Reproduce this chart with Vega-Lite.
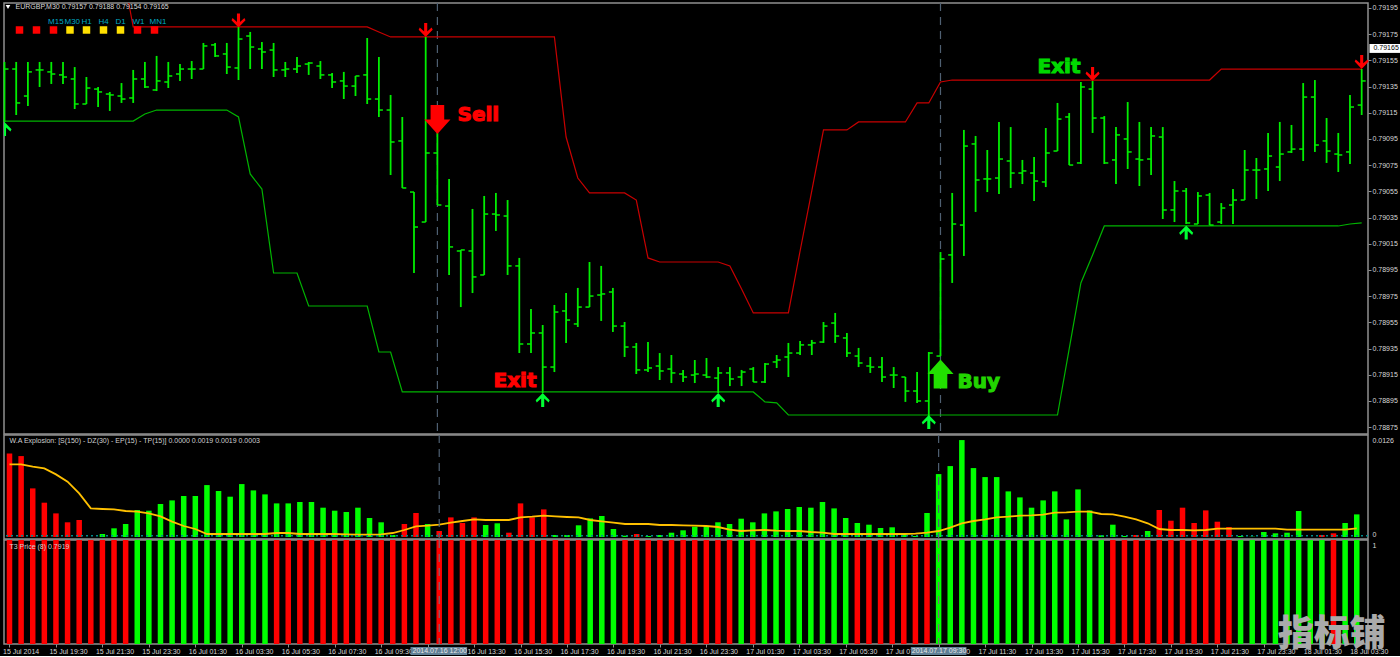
{
"$schema":"https://vega.github.io/schema/vega-lite/v6.json",
"background":"#000000",
"padding":{"left":1,"top":1,"right":0,"bottom":0},
"spacing":1,
"bounds":"flush",
"config":{"view":{"stroke":"#909090","strokeWidth":1.5},"font":"Liberation Sans"},
"datasets":{
"bars":[
{"t":"2014-07-15T17:30:00Z","o":null,"h":0.791538,"l":0.79108,"c":0.791484,"u":null,"d":0.791087,"wa":0.01087,"wc":"r","ep":0.00944,"t3":"r"},
{"t":"2014-07-15T18:00:00Z","o":0.791484,"h":0.791538,"l":0.791133,"c":0.791225,"u":null,"d":0.791087,"wa":0.01052,"wc":"r","ep":0.00944,"t3":"r"},
{"t":"2014-07-15T18:30:00Z","o":0.791278,"h":0.791538,"l":0.791202,"c":0.791462,"u":null,"d":0.791087,"wa":0.00632,"wc":"r","ep":0.00914,"t3":"r"},
{"t":"2014-07-15T19:00:00Z","o":0.791477,"h":0.791538,"l":0.791347,"c":0.791477,"u":null,"d":0.791087,"wa":0.00446,"wc":"r","ep":0.00892,"t3":"r"},
{"t":"2014-07-15T19:30:00Z","o":0.791462,"h":0.791538,"l":0.79137,"c":0.791446,"u":null,"d":0.791087,"wa":0.00307,"wc":"r","ep":0.00814,"t3":"r"},
{"t":"2014-07-15T20:00:00Z","o":0.791439,"h":0.791538,"l":0.79137,"c":0.791423,"u":null,"d":0.791087,"wa":0.00191,"wc":"r","ep":0.00719,"t3":"r"},
{"t":"2014-07-15T20:30:00Z","o":0.791408,"h":0.791499,"l":0.791179,"c":0.791217,"u":null,"d":0.791087,"wa":0.00221,"wc":"r","ep":0.00567,"t3":"r"},
{"t":"2014-07-15T21:00:00Z","o":0.791217,"h":0.791423,"l":0.791217,"c":0.791339,"u":null,"d":0.791087,"wa":null,"wc":"g","ep":0.00372,"t3":"r"},
{"t":"2014-07-15T21:30:00Z","o":0.791331,"h":0.791347,"l":0.791194,"c":0.791309,"u":null,"d":0.791087,"wa":0.00039,"wc":"g","ep":0.00364,"t3":"r"},
{"t":"2014-07-15T22:00:00Z","o":0.791293,"h":0.791309,"l":0.791164,"c":0.791286,"u":null,"d":0.791087,"wa":0.00113,"wc":"g","ep":0.00359,"t3":"r"},
{"t":"2014-07-15T22:30:00Z","o":0.791278,"h":0.791377,"l":0.791225,"c":0.791255,"u":0.792286,"d":0.791087,"wa":0.00169,"wc":"g","ep":0.00338,"t3":"r"},
{"t":"2014-07-15T23:00:00Z","o":0.791263,"h":0.791477,"l":0.791225,"c":0.791408,"u":0.791805,"d":0.791087,"wa":0.00351,"wc":"g","ep":0.00329,"t3":"g"},
{"t":"2014-07-15T23:30:00Z","o":0.791408,"h":0.791538,"l":0.791339,"c":0.791347,"u":0.791805,"d":0.791141,"wa":0.00342,"wc":"g","ep":0.00307,"t3":"g"},
{"t":"2014-07-16T00:00:00Z","o":0.791324,"h":0.791584,"l":0.791316,"c":0.791393,"u":0.791805,"d":0.791171,"wa":0.00429,"wc":"g","ep":0.00268,"t3":"g"},
{"t":"2014-07-16T00:30:00Z","o":0.791385,"h":0.791538,"l":0.791339,"c":0.791431,"u":0.791805,"d":0.791171,"wa":0.00476,"wc":"g","ep":0.00199,"t3":"g"},
{"t":"2014-07-16T01:00:00Z","o":0.791446,"h":0.791522,"l":0.791393,"c":0.791484,"u":0.791805,"d":0.791171,"wa":0.00533,"wc":"g","ep":0.00143,"t3":"g"},
{"t":"2014-07-16T01:30:00Z","o":0.791484,"h":0.791545,"l":0.791408,"c":0.791484,"u":0.791805,"d":0.791171,"wa":0.00533,"wc":"g","ep":0.00104,"t3":"g"},
{"t":"2014-07-16T02:00:00Z","o":0.791484,"h":0.791683,"l":0.791484,"c":0.79166,"u":0.791805,"d":0.791171,"wa":0.00675,"wc":"g","ep":0.00039,"t3":"g"},
{"t":"2014-07-16T02:30:00Z","o":0.791668,"h":0.791683,"l":0.791576,"c":0.791584,"u":0.791805,"d":0.791171,"wa":0.00598,"wc":"g","ep":0.00039,"t3":"g"},
{"t":"2014-07-16T03:00:00Z","o":0.791599,"h":0.791683,"l":0.791446,"c":0.791499,"u":0.791805,"d":0.791171,"wa":0.00524,"wc":"g","ep":0.00039,"t3":"g"},
{"t":"2014-07-16T03:30:00Z","o":0.791492,"h":0.791805,"l":0.7914,"c":0.791713,"u":0.791805,"d":0.791118,"wa":0.00688,"wc":"g","ep":0.00039,"t3":"g"},
{"t":"2014-07-16T04:00:00Z","o":0.791736,"h":0.791767,"l":0.791484,"c":0.791652,"u":0.791805,"d":0.790683,"wa":0.00606,"wc":"g","ep":0.00039,"t3":"g"},
{"t":"2014-07-16T04:30:00Z","o":0.791637,"h":0.79169,"l":0.791484,"c":0.791614,"u":0.791805,"d":0.790568,"wa":0.00554,"wc":"g","ep":0.00039,"t3":"g"},
{"t":"2014-07-16T05:00:00Z","o":0.791629,"h":0.791683,"l":0.791423,"c":0.791477,"u":0.791805,"d":0.789927,"wa":0.00437,"wc":"g","ep":0.00052,"t3":"r"},
{"t":"2014-07-16T05:30:00Z","o":0.791477,"h":0.791538,"l":0.791423,"c":0.791484,"u":0.791805,"d":0.789927,"wa":0.00437,"wc":"g","ep":0.00052,"t3":"r"},
{"t":"2014-07-16T06:00:00Z","o":0.791484,"h":0.791576,"l":0.791454,"c":0.791507,"u":0.791805,"d":0.789927,"wa":0.00455,"wc":"g","ep":0.00039,"t3":"r"},
{"t":"2014-07-16T06:30:00Z","o":0.791522,"h":0.791538,"l":0.791439,"c":0.79153,"u":0.791805,"d":0.789675,"wa":0.00455,"wc":"g","ep":0.00039,"t3":"r"},
{"t":"2014-07-16T07:00:00Z","o":0.791507,"h":0.791545,"l":0.791408,"c":0.791439,"u":0.791805,"d":0.789675,"wa":0.00381,"wc":"g","ep":0.00039,"t3":"r"},
{"t":"2014-07-16T07:30:00Z","o":0.791439,"h":0.791454,"l":0.791339,"c":0.791385,"u":0.791805,"d":0.789675,"wa":0.00342,"wc":"g","ep":0.00039,"t3":"r"},
{"t":"2014-07-16T08:00:00Z","o":0.791393,"h":0.791462,"l":0.791255,"c":0.791354,"u":0.791805,"d":0.789675,"wa":0.00325,"wc":"g","ep":0.00035,"t3":"r"},
{"t":"2014-07-16T08:30:00Z","o":0.791354,"h":0.791431,"l":0.791278,"c":0.791431,"u":0.791805,"d":0.789675,"wa":0.00381,"wc":"g","ep":0.0003,"t3":"r"},
{"t":"2014-07-16T09:00:00Z","o":0.791439,"h":0.791721,"l":0.791217,"c":0.791255,"u":0.791805,"d":0.789675,"wa":0.00247,"wc":"g","ep":0.0003,"t3":"r"},
{"t":"2014-07-16T09:30:00Z","o":0.791255,"h":0.791576,"l":0.791118,"c":0.791171,"u":0.791767,"d":0.789324,"wa":0.00191,"wc":"g","ep":0.00035,"t3":"r"},
{"t":"2014-07-16T10:00:00Z","o":0.791171,"h":0.791286,"l":0.790675,"c":0.790927,"u":0.791729,"d":0.789324,"wa":0.00026,"wc":"g","ep":0.00052,"t3":"r"},
{"t":"2014-07-16T10:30:00Z","o":0.790935,"h":0.791118,"l":0.790576,"c":0.790576,"u":0.791729,"d":0.789019,"wa":0.00169,"wc":"r","ep":0.00091,"t3":"r"},
{"t":"2014-07-16T11:00:00Z","o":0.790545,"h":0.790545,"l":0.789927,"c":0.790278,"u":0.791729,"d":0.789019,"wa":0.00312,"wc":"r","ep":0.00139,"t3":"r"},
{"t":"2014-07-16T11:30:00Z","o":0.790316,"h":0.791729,"l":0.790316,"c":0.790843,"u":0.791729,"d":0.789019,"wa":0.00169,"wc":"g","ep":0.00147,"t3":"r"},
{"t":"2014-07-16T12:00:00Z","o":0.790843,"h":0.790996,"l":0.790446,"c":0.790446,"u":0.791729,"d":0.789019,"wa":0.00078,"wc":"r","ep":0.0016,"t3":"r"},
{"t":"2014-07-16T12:30:00Z","o":0.790438,"h":0.790645,"l":0.789912,"c":0.790126,"u":0.791729,"d":0.789019,"wa":0.00255,"wc":"r","ep":0.00186,"t3":"r"},
{"t":"2014-07-16T13:00:00Z","o":0.790095,"h":0.790103,"l":0.789667,"c":0.790103,"u":0.791729,"d":0.789019,"wa":0.00182,"wc":"r","ep":0.00208,"t3":"r"},
{"t":"2014-07-16T13:30:00Z","o":0.790095,"h":0.790416,"l":0.789774,"c":0.789897,"u":0.791729,"d":0.789019,"wa":0.00255,"wc":"r","ep":0.00229,"t3":"r"},
{"t":"2014-07-16T14:00:00Z","o":0.789912,"h":0.790515,"l":0.789912,"c":0.790377,"u":0.791729,"d":0.789019,"wa":0.00156,"wc":"g","ep":0.00221,"t3":"r"},
{"t":"2014-07-16T14:30:00Z","o":0.790377,"h":0.790538,"l":0.790248,"c":0.79037,"u":0.791729,"d":0.789019,"wa":0.00178,"wc":"g","ep":0.00221,"t3":"r"},
{"t":"2014-07-16T15:00:00Z","o":0.790362,"h":0.790484,"l":0.789912,"c":0.789981,"u":0.791729,"d":0.789019,"wa":0.00056,"wc":"r","ep":0.00221,"t3":"r"},
{"t":"2014-07-16T15:30:00Z","o":0.789981,"h":0.790042,"l":0.789316,"c":0.789385,"u":0.791729,"d":0.789019,"wa":0.00437,"wc":"r","ep":0.00255,"t3":"r"},
{"t":"2014-07-16T16:00:00Z","o":0.789385,"h":0.789652,"l":0.789316,"c":0.789469,"u":0.791729,"d":0.789019,"wa":0.00255,"wc":"r","ep":0.00264,"t3":"r"},
{"t":"2014-07-16T16:30:00Z","o":0.789469,"h":0.78953,"l":0.789011,"c":0.789209,"u":0.791729,"d":0.789019,"wa":0.00359,"wc":"r","ep":0.00277,"t3":"r"},
{"t":"2014-07-16T17:00:00Z","o":0.789209,"h":0.789683,"l":0.789171,"c":0.789629,"u":0.791729,"d":0.789019,"wa":0.00026,"wc":"g","ep":0.00268,"t3":"r"},
{"t":"2014-07-16T17:30:00Z","o":0.789637,"h":0.789774,"l":0.789393,"c":0.789568,"u":0.790965,"d":0.789019,"wa":0.00026,"wc":"g","ep":0.0026,"t3":"r"},
{"t":"2014-07-16T18:00:00Z","o":0.789538,"h":0.789813,"l":0.789515,"c":0.789667,"u":0.790652,"d":0.789019,"wa":0.00152,"wc":"g","ep":0.00255,"t3":"r"},
{"t":"2014-07-16T18:30:00Z","o":0.789667,"h":0.790011,"l":0.789667,"c":0.789751,"u":0.790538,"d":0.789019,"wa":0.00242,"wc":"g","ep":0.00221,"t3":"g"},
{"t":"2014-07-16T19:00:00Z","o":0.789759,"h":0.789981,"l":0.789561,"c":0.789767,"u":0.790538,"d":0.789019,"wa":0.00273,"wc":"g","ep":0.00204,"t3":"g"},
{"t":"2014-07-16T19:30:00Z","o":0.789782,"h":0.789813,"l":0.789477,"c":0.789522,"u":0.790538,"d":0.789019,"wa":0.00104,"wc":"g","ep":0.00186,"t3":"g"},
{"t":"2014-07-16T20:00:00Z","o":0.789522,"h":0.789553,"l":0.789286,"c":0.789362,"u":0.790538,"d":0.789019,"wa":0.00017,"wc":"g","ep":0.00169,"t3":"r"},
{"t":"2014-07-16T20:30:00Z","o":0.789362,"h":0.789393,"l":0.789156,"c":0.789187,"u":0.790484,"d":0.789019,"wa":0.00039,"wc":"r","ep":0.00169,"t3":"r"},
{"t":"2014-07-16T21:00:00Z","o":0.789187,"h":0.7894,"l":0.789171,"c":0.789202,"u":0.790042,"d":0.789019,"wa":0.00013,"wc":"g","ep":0.00169,"t3":"r"},
{"t":"2014-07-16T21:30:00Z","o":0.789217,"h":0.789316,"l":0.78911,"c":0.789179,"u":0.790011,"d":0.789019,"wa":0.00026,"wc":"g","ep":0.00156,"t3":"r"},
{"t":"2014-07-16T22:00:00Z","o":0.789194,"h":0.789301,"l":0.789087,"c":0.789164,"u":0.790011,"d":0.789019,"wa":0.00056,"wc":"g","ep":0.00156,"t3":"r"},
{"t":"2014-07-16T22:30:00Z","o":0.789156,"h":0.789187,"l":0.789095,"c":0.789133,"u":0.790011,"d":0.789019,"wa":0.00087,"wc":"g","ep":0.00152,"t3":"r"},
{"t":"2014-07-16T23:00:00Z","o":0.789148,"h":0.789263,"l":0.789087,"c":0.789156,"u":0.790011,"d":0.789019,"wa":0.00134,"wc":"g","ep":0.00147,"t3":"r"},
{"t":"2014-07-16T23:30:00Z","o":0.789148,"h":0.789278,"l":0.789125,"c":0.789133,"u":0.790011,"d":0.789019,"wa":0.00143,"wc":"g","ep":0.00143,"t3":"r"},
{"t":"2014-07-17T00:00:00Z","o":0.789125,"h":0.789209,"l":0.789011,"c":0.789164,"u":0.790011,"d":0.789019,"wa":0.00191,"wc":"g","ep":0.0013,"t3":"r"},
{"t":"2014-07-17T00:30:00Z","o":0.789164,"h":0.789209,"l":0.789064,"c":0.789118,"u":0.789981,"d":0.789019,"wa":0.00169,"wc":"g","ep":0.00095,"t3":"r"},
{"t":"2014-07-17T01:00:00Z","o":0.789133,"h":0.789187,"l":0.789064,"c":0.789171,"u":0.789805,"d":0.789019,"wa":0.00238,"wc":"g","ep":0.00078,"t3":"g"},
{"t":"2014-07-17T01:30:00Z","o":0.789194,"h":0.789209,"l":0.789095,"c":0.789095,"u":0.789622,"d":0.789019,"wa":0.00191,"wc":"g","ep":0.00087,"t3":"r"},
{"t":"2014-07-17T02:00:00Z","o":0.789095,"h":0.78924,"l":0.789087,"c":0.789232,"u":0.789622,"d":0.788943,"wa":0.00307,"wc":"g","ep":0.00091,"t3":"g"},
{"t":"2014-07-17T02:30:00Z","o":0.789248,"h":0.789301,"l":0.789202,"c":0.789263,"u":0.789622,"d":0.788935,"wa":0.00333,"wc":"g","ep":0.00082,"t3":"g"},
{"t":"2014-07-17T03:00:00Z","o":0.789286,"h":0.789393,"l":0.789133,"c":0.789316,"u":0.789622,"d":0.788843,"wa":0.00364,"wc":"g","ep":0.00078,"t3":"g"},
{"t":"2014-07-17T03:30:00Z","o":0.789316,"h":0.789408,"l":0.789301,"c":0.789378,"u":0.790095,"d":0.788843,"wa":0.0039,"wc":"g","ep":0.00078,"t3":"g"},
{"t":"2014-07-17T04:00:00Z","o":0.789378,"h":0.789416,"l":0.789301,"c":0.789393,"u":0.790553,"d":0.788843,"wa":0.00381,"wc":"g","ep":0.00065,"t3":"g"},
{"t":"2014-07-17T04:30:00Z","o":0.7894,"h":0.789553,"l":0.789393,"c":0.789522,"u":0.791019,"d":0.788843,"wa":0.00455,"wc":"g","ep":0.00056,"t3":"g"},
{"t":"2014-07-17T05:00:00Z","o":0.789545,"h":0.789622,"l":0.789393,"c":0.789446,"u":0.791019,"d":0.788843,"wa":0.00372,"wc":"g","ep":0.00039,"t3":"g"},
{"t":"2014-07-17T05:30:00Z","o":0.789431,"h":0.789469,"l":0.789286,"c":0.789316,"u":0.791019,"d":0.788843,"wa":0.00247,"wc":"g","ep":0.00039,"t3":"g"},
{"t":"2014-07-17T06:00:00Z","o":0.789293,"h":0.789355,"l":0.789209,"c":0.78924,"u":0.79108,"d":0.788843,"wa":0.00182,"wc":"g","ep":0.00039,"t3":"r"},
{"t":"2014-07-17T06:30:00Z","o":0.789217,"h":0.789286,"l":0.789164,"c":0.789209,"u":0.79108,"d":0.788843,"wa":0.0016,"wc":"g","ep":0.00039,"t3":"r"},
{"t":"2014-07-17T07:00:00Z","o":0.789209,"h":0.789286,"l":0.789095,"c":0.789133,"u":0.79108,"d":0.788843,"wa":0.00117,"wc":"g","ep":0.00039,"t3":"r"},
{"t":"2014-07-17T07:30:00Z","o":0.789148,"h":0.789209,"l":0.789049,"c":0.789148,"u":0.79108,"d":0.788843,"wa":0.00126,"wc":"g","ep":0.00039,"t3":"r"},
{"t":"2014-07-17T08:00:00Z","o":0.789133,"h":0.789133,"l":0.788943,"c":0.789026,"u":0.79108,"d":0.788843,"wa":0.00039,"wc":"g","ep":0.00039,"t3":"r"},
{"t":"2014-07-17T08:30:00Z","o":0.789026,"h":0.789171,"l":0.788935,"c":0.78895,"u":0.791225,"d":0.788843,"wa":0.00013,"wc":"g","ep":0.00043,"t3":"r"},
{"t":"2014-07-17T09:00:00Z","o":0.78895,"h":0.789324,"l":0.788797,"c":0.789316,"u":0.791225,"d":0.788843,"wa":0.00312,"wc":"g","ep":0.00056,"t3":"r"},
{"t":"2014-07-17T09:30:00Z","o":0.789293,"h":0.790087,"l":0.789293,"c":0.790034,"u":0.791385,"d":0.788843,"wa":0.00818,"wc":"g","ep":0.00078,"t3":"g"},
{"t":"2014-07-17T10:00:00Z","o":0.790065,"h":0.790538,"l":0.789851,"c":0.790301,"u":0.7914,"d":0.788843,"wa":0.00922,"wc":"g","ep":0.00121,"t3":"g"},
{"t":"2014-07-17T10:30:00Z","o":0.790293,"h":0.791019,"l":0.790057,"c":0.790896,"u":0.7914,"d":0.788843,"wa":0.0126,"wc":"g","ep":0.00178,"t3":"g"},
{"t":"2014-07-17T11:00:00Z","o":0.790912,"h":0.790973,"l":0.790393,"c":0.790637,"u":0.7914,"d":0.788843,"wa":0.00896,"wc":"g","ep":0.00208,"t3":"g"},
{"t":"2014-07-17T11:30:00Z","o":0.790645,"h":0.790866,"l":0.790545,"c":0.790645,"u":0.7914,"d":0.788843,"wa":0.00779,"wc":"g","ep":0.00229,"t3":"g"},
{"t":"2014-07-17T12:00:00Z","o":0.790652,"h":0.79108,"l":0.79053,"c":0.790797,"u":0.7914,"d":0.788843,"wa":0.00779,"wc":"g","ep":0.00255,"t3":"g"},
{"t":"2014-07-17T12:30:00Z","o":0.790782,"h":0.791041,"l":0.790576,"c":0.79069,"u":0.7914,"d":0.788843,"wa":0.00593,"wc":"g","ep":0.00264,"t3":"g"},
{"t":"2014-07-17T13:00:00Z","o":0.79069,"h":0.79079,"l":0.790606,"c":0.790706,"u":0.7914,"d":0.788843,"wa":0.00515,"wc":"g","ep":0.00277,"t3":"g"},
{"t":"2014-07-17T13:30:00Z","o":0.79069,"h":0.790812,"l":0.790477,"c":0.790629,"u":0.7914,"d":0.788843,"wa":0.00381,"wc":"g","ep":0.00281,"t3":"g"},
{"t":"2014-07-17T14:00:00Z","o":0.790622,"h":0.791034,"l":0.790583,"c":0.790843,"u":0.7914,"d":0.788843,"wa":0.00476,"wc":"g","ep":0.0029,"t3":"g"},
{"t":"2014-07-17T14:30:00Z","o":0.790858,"h":0.791225,"l":0.790858,"c":0.791102,"u":0.7914,"d":0.788843,"wa":0.00593,"wc":"g","ep":0.00316,"t3":"g"},
{"t":"2014-07-17T15:00:00Z","o":0.791118,"h":0.791148,"l":0.790751,"c":0.790751,"u":0.7914,"d":0.789347,"wa":0.00229,"wc":"g","ep":0.0032,"t3":"g"},
{"t":"2014-07-17T15:30:00Z","o":0.790767,"h":0.791385,"l":0.790759,"c":0.791347,"u":0.7914,"d":0.789851,"wa":0.00619,"wc":"g","ep":0.00329,"t3":"g"},
{"t":"2014-07-17T16:00:00Z","o":0.791331,"h":0.791393,"l":0.790996,"c":0.79111,"u":0.7914,"d":0.790065,"wa":0.00346,"wc":"g","ep":0.00329,"t3":"g"},
{"t":"2014-07-17T16:30:00Z","o":0.79111,"h":0.791125,"l":0.790759,"c":0.790767,"u":0.7914,"d":0.790286,"wa":0.00022,"wc":"g","ep":0.00299,"t3":"g"},
{"t":"2014-07-17T17:00:00Z","o":0.79079,"h":0.791041,"l":0.790606,"c":0.790981,"u":0.7914,"d":0.790286,"wa":0.0016,"wc":"g","ep":0.00294,"t3":"r"},
{"t":"2014-07-17T17:30:00Z","o":0.79095,"h":0.791232,"l":0.790721,"c":0.790851,"u":0.7914,"d":0.790286,"wa":0.00013,"wc":"g","ep":0.00264,"t3":"r"},
{"t":"2014-07-17T18:00:00Z","o":0.790797,"h":0.79108,"l":0.790591,"c":0.79079,"u":0.7914,"d":0.790286,"wa":0.00026,"wc":"r","ep":0.00229,"t3":"r"},
{"t":"2014-07-17T18:30:00Z","o":0.790797,"h":0.791041,"l":0.790675,"c":0.790973,"u":0.7914,"d":0.790286,"wa":0.00078,"wc":"g","ep":0.00178,"t3":"r"},
{"t":"2014-07-17T19:00:00Z","o":0.790965,"h":0.791041,"l":0.790339,"c":0.790408,"u":0.7914,"d":0.790286,"wa":0.00351,"wc":"r","ep":0.00104,"t3":"r"},
{"t":"2014-07-17T19:30:00Z","o":0.790408,"h":0.790629,"l":0.790316,"c":0.790553,"u":0.7914,"d":0.790286,"wa":0.00212,"wc":"r","ep":0.00091,"t3":"r"},
{"t":"2014-07-17T20:00:00Z","o":0.790553,"h":0.790576,"l":0.790301,"c":0.790309,"u":0.7914,"d":0.790286,"wa":0.00381,"wc":"r","ep":0.00091,"t3":"r"},
{"t":"2014-07-17T20:30:00Z","o":0.790301,"h":0.790545,"l":0.790301,"c":0.790515,"u":0.7914,"d":0.790286,"wa":0.00182,"wc":"r","ep":0.00087,"t3":"r"},
{"t":"2014-07-17T21:00:00Z","o":0.790522,"h":0.790538,"l":0.790293,"c":0.790293,"u":0.7914,"d":0.790286,"wa":0.00346,"wc":"r","ep":0.00091,"t3":"r"},
{"t":"2014-07-17T21:30:00Z","o":0.790316,"h":0.790461,"l":0.790301,"c":0.790423,"u":0.791484,"d":0.790286,"wa":0.00199,"wc":"r","ep":0.00108,"t3":"r"},
{"t":"2014-07-17T22:00:00Z","o":0.790446,"h":0.790568,"l":0.790301,"c":0.790484,"u":0.791484,"d":0.790286,"wa":0.0013,"wc":"r","ep":0.00108,"t3":"r"},
{"t":"2014-07-17T22:30:00Z","o":0.790484,"h":0.790866,"l":0.790484,"c":0.790713,"u":0.791484,"d":0.790286,"wa":0.00013,"wc":"g","ep":0.00108,"t3":"g"},
{"t":"2014-07-17T23:00:00Z","o":0.790713,"h":0.790805,"l":0.790492,"c":0.790713,"u":0.791484,"d":0.790286,"wa":0.00004,"wc":"g","ep":0.00108,"t3":"g"},
{"t":"2014-07-17T23:30:00Z","o":0.790721,"h":0.790996,"l":0.790553,"c":0.79082,"u":0.791484,"d":0.790286,"wa":0.00065,"wc":"g","ep":0.00108,"t3":"g"},
{"t":"2014-07-18T00:00:00Z","o":0.790736,"h":0.79108,"l":0.790629,"c":0.790835,"u":0.791484,"d":0.790286,"wa":0.00048,"wc":"g","ep":0.00108,"t3":"g"},
{"t":"2014-07-18T00:30:00Z","o":0.790851,"h":0.791057,"l":0.790843,"c":0.790873,"u":0.791484,"d":0.790286,"wa":0.00056,"wc":"g","ep":0.00095,"t3":"g"},
{"t":"2014-07-18T01:00:00Z","o":0.790873,"h":0.791377,"l":0.790782,"c":0.79127,"u":0.791484,"d":0.790286,"wa":0.00338,"wc":"g","ep":0.00095,"t3":"g"},
{"t":"2014-07-18T01:30:00Z","o":0.79127,"h":0.7914,"l":0.790851,"c":0.790904,"u":0.791484,"d":0.790286,"wa":null,"wc":"g","ep":0.00095,"t3":"g"},
{"t":"2014-07-18T02:00:00Z","o":0.790935,"h":0.79111,"l":0.790767,"c":0.790858,"u":0.791484,"d":0.790286,"wa":0.00026,"wc":"r","ep":0.00095,"t3":"g"},
{"t":"2014-07-18T02:30:00Z","o":0.790835,"h":0.790996,"l":0.790698,"c":0.790828,"u":0.791484,"d":0.790286,"wa":0.00048,"wc":"r","ep":0.00095,"t3":"r"},
{"t":"2014-07-18T03:00:00Z","o":0.790851,"h":0.791286,"l":0.790759,"c":0.791194,"u":0.791484,"d":0.790301,"wa":0.00182,"wc":"g","ep":0.00095,"t3":"g"},
{"t":"2014-07-18T03:30:00Z","o":0.791209,"h":0.791484,"l":0.791133,"c":0.791393,"u":0.791484,"d":0.790309,"wa":0.00294,"wc":"g","ep":0.00113,"t3":"g"}
],
"cursors":[{"t":"2014-07-16T12:00:00Z"},{"t":"2014-07-17T09:30:00Z"}],
"zeroLine":[{"v":0.00017}],
"arrows":[
{"t":"2014-07-16T03:30:00Z","p":0.791854,"dir":"down"},
{"t":"2014-07-16T11:30:00Z","p":0.791782,"dir":"down"},
{"t":"2014-07-17T16:00:00Z","p":0.791446,"dir":"down"},
{"t":"2014-07-18T03:30:00Z","p":0.791538,"dir":"down"},
{"t":"2014-07-15T17:30:00Z","p":0.791026,"dir":"up"},
{"t":"2014-07-16T16:30:00Z","p":0.788958,"dir":"up"},
{"t":"2014-07-17T00:00:00Z","p":0.788958,"dir":"up"},
{"t":"2014-07-17T09:00:00Z","p":0.78879,"dir":"up"},
{"t":"2014-07-17T20:00:00Z","p":0.790236,"dir":"up"}
],
"signals":[
{"t":"2014-07-16T12:00:00Z","p":0.791099,"side":"sell"},
{"t":"2014-07-17T09:30:00Z","p":0.789156,"side":"buy"}
],
"words":[
{"t":1405515092000,"p":0.791087,"label":"Sell","side":"sell"},
{"t":1405520631000,"p":0.789057,"label":"Exit","side":"sell"},
{"t":1405592015000,"p":0.789049,"label":"Buy","side":"buy"},
{"t":1405604323000,"p":0.791454,"label":"Exit","side":"green"}
],
"states":[
{"t":1405447708000,"p":0.791782,"state":"r"},
{"t":1405450323000,"p":0.791782,"state":"r"},
{"t":1405452938000,"p":0.791782,"state":"r"},
{"t":1405455477000,"p":0.791782,"state":"y"},
{"t":1405458015000,"p":0.791782,"state":"y"},
{"t":1405460631000,"p":0.791782,"state":"y"},
{"t":1405463246000,"p":0.791782,"state":"y"},
{"t":1405465862000,"p":0.791782,"state":"r"},
{"t":1405468477000,"p":0.791782,"state":"r"}
],
"frames":[
{"t":1405452108000,"p":0.791843,"label":"M15"},
{"t":1405454631000,"p":0.791843,"label":"M30"},
{"t":1405457246000,"p":0.791843,"label":"H1"},
{"t":1405459862000,"p":0.791843,"label":"H4"},
{"t":1405462477000,"p":0.791843,"label":"D1"},
{"t":1405465092000,"p":0.791843,"label":"W1"},
{"t":1405467708000,"p":0.791843,"label":"MN1"}
],
"titles":[{"t":1405447092000,"p":0.791958,"label":"EURGBP,M30  0.79157 0.79188 0.79154 0.79165"}],
"marker":[{"t":1405445938000,"p":0.791958}],
"lastPrice":[{"t":1405655400000,"t2":1405660169000,"p":0.791675,"p2":0.791607,"tl":1405656015000,"pl":0.791641,"label":"0.79165"}],
"waTitle":[{"t":1405445400000,"v":0.01248,"label":"W.A Explosion: [S(150) - DZ(30) - EP(15) - TP(15)] 0.0000 0.0019 0.0019 0.0003"}],
"t3Title":[{"t":1405445400000,"v":0.933,"label":"T3 Price (8) 0.7919"}],
"dateBoxes":[
{"t":1405507554000,"t2":1405516323000,"tl":1405507861000,"v":-0.029,"v2":-0.106,"vl":-0.067,"label":"2014.07.16 12:00"},
{"t":1405585092000,"t2":1405593708000,"tl":1405585246000,"v":-0.029,"v2":-0.106,"vl":-0.067,"label":"2014.07.17 09:30"}
],
"stamp":[{"t":1405650322000,"v":0.086,"label":"指标铺"}]
},
"vconcat":[
{"width":1364,"height":431,
 "resolve":{"scale":{"color":"independent","stroke":"independent"},"axis":{"x":"independent","y":"independent"}},
 "encoding":{"x":{"field":"t","type":"temporal","scale":{"type":"utc","domain":[1405445323000,1405655172000]},"axis":null}},
 "layer":[
  {"data":{"name":"cursors"},"mark":{"type":"rule","color":"#4f6072","strokeWidth":1.2,"strokeDash":[8,6]},"encoding":{}},
  {"data":{"name":"bars"},"mark":{"type":"line","color":"#c80000","strokeWidth":1.2,"clip":true},"encoding":{"y":{"field":"u","type":"quantitative","axis":null,"scale":{"domain":[0.788698,0.791988],"zero":false,"nice":false}}}},
  {"data":{"name":"bars"},"mark":{"type":"line","color":"#00b400","strokeWidth":1.2},"encoding":{"y":{"field":"d","type":"quantitative","axis":null}}},
  {"data":{"name":"bars"},"mark":{"type":"rule","color":"#00ee00","strokeWidth":1.8},"encoding":{
    "y":{"field":"l","type":"quantitative","axis":{"orient":"right","title":null,"values":[0.79195,0.79175,0.79155,0.79135,0.79115,0.79095,0.79075,0.79055,0.79035,0.79015,0.78995,0.78975,0.78955,0.78935,0.78915,0.78895,0.78875],"format":".5f","labelColor":"#d8d8d8","labelFontSize":7,"labelPadding":1,"tickSize":3,"tickColor":"#909090","grid":false,"domain":false,"labelOverlap":false,"labelFlush":false}},
    "y2":{"field":"h"}}},
  {"data":{"name":"bars"},"mark":{"type":"rule","color":"#00ee00","strokeWidth":1.5,"xOffset":-4,"x2Offset":0},"encoding":{"x2":{"field":"t"},"y":{"field":"o","type":"quantitative","axis":null}}},
  {"data":{"name":"bars"},"mark":{"type":"rule","color":"#00ee00","strokeWidth":1.5,"xOffset":0,"x2Offset":4},"encoding":{"x2":{"field":"t"},"y":{"field":"c","type":"quantitative","axis":null}}},
  {"data":{"name":"arrows"},"transform":[{"filter":"datum.dir === 'down'"}],"mark":{"type":"point","filled":true,"color":"#ff0000","opacity":1,"size":196,"shape":"M-.22,-1 L.22,-1 L.22,.2 L.85,-.35 L1,-.05 L0,1 L-1,-.05 L-.85,-.35 L-.22,.2 Z"},"encoding":{"y":{"field":"p","type":"quantitative","axis":null}}},
  {"data":{"name":"arrows"},"transform":[{"filter":"datum.dir === 'up'"}],"mark":{"type":"point","filled":true,"color":"#00ff33","opacity":1,"size":196,"clip":true,"shape":"M-.22,1 L.22,1 L.22,-.2 L.85,.35 L1,.05 L0,-1 L-1,.05 L-.85,.35 L-.22,-.2 Z"},"encoding":{"y":{"field":"p","type":"quantitative","axis":null}}},
  {"data":{"name":"signals"},"transform":[{"filter":"datum.side === 'sell'"}],"mark":{"type":"point","filled":true,"color":"#ff0000","opacity":1,"size":841,"shape":"M-.47,-1 L.47,-1 L.47,0 L.9,0 L0,1 L-.9,0 L-.47,0 Z"},"encoding":{"y":{"field":"p","type":"quantitative","axis":null}}},
  {"data":{"name":"signals"},"transform":[{"filter":"datum.side === 'buy'"}],"mark":{"type":"point","filled":true,"color":"#22e000","opacity":1,"size":841,"shape":"M-.47,1 L.47,1 L.47,0 L.9,0 L0,-1 L-.9,0 L-.47,0 Z"},"encoding":{"y":{"field":"p","type":"quantitative","axis":null}}},
  {"data":{"name":"words"},"mark":{"type":"text","font":"DejaVu Sans","fontWeight":"bold","fontSize":20,"align":"left","baseline":"alphabetic","strokeWidth":1.1},"encoding":{"y":{"field":"p","type":"quantitative","axis":null},"text":{"field":"label"},"color":{"field":"side","type":"nominal","legend":null,"scale":{"domain":["sell","buy","green"],"range":["#ff0000","#22d400","#00d800"]}},"stroke":{"field":"side","type":"nominal","legend":null,"scale":{"domain":["sell","buy","green"],"range":["#ff0000","#22d400","#00d800"]}}}},
  {"data":{"name":"states"},"mark":{"type":"point","shape":"square","filled":true,"opacity":1,"size":56},"encoding":{"y":{"field":"p","type":"quantitative","axis":null},"color":{"field":"state","type":"nominal","legend":null,"scale":{"domain":["r","y"],"range":["#ff0000","#ffe000"]}}}},
  {"data":{"name":"frames"},"mark":{"type":"text","align":"left","baseline":"middle","fontSize":8,"color":"#00a8c4"},"encoding":{"y":{"field":"p","type":"quantitative","axis":null},"text":{"field":"label"}}},
  {"data":{"name":"titles"},"mark":{"type":"text","align":"left","baseline":"middle","fontSize":7,"color":"#d8d8d8"},"encoding":{"y":{"field":"p","type":"quantitative","axis":null},"text":{"field":"label"}}},
  {"data":{"name":"marker"},"mark":{"type":"point","shape":"triangle-down","filled":true,"opacity":1,"size":22,"color":"#ffffff"},"encoding":{"y":{"field":"p","type":"quantitative","axis":null}}},
  {"data":{"name":"lastPrice"},"mark":{"type":"rect","color":"#ffffff","clip":false},"encoding":{"x2":{"field":"t2"},"y":{"field":"p","type":"quantitative","axis":null},"y2":{"field":"p2"}}},
  {"data":{"name":"lastPrice"},"mark":{"type":"text","align":"left","baseline":"middle","fontSize":7,"color":"#000000"},"encoding":{"x":{"field":"tl","type":"temporal","axis":null},"y":{"field":"pl","type":"quantitative","axis":null},"text":{"field":"label"}}}
 ]},
{"width":1364,"height":104,
 "resolve":{"axis":{"x":"independent","y":"independent"}},
 "encoding":{"x":{"field":"t","type":"temporal","scale":{"type":"utc","domain":[1405445323000,1405655172000]},"axis":null}},
 "layer":[
  {"data":{"name":"bars"},"mark":{"type":"bar","width":5.5},"encoding":{
    "y":{"field":"wa","type":"quantitative","scale":{"domain":[-0.00026,0.01326],"zero":false,"nice":false},"axis":{"orient":"right","title":null,"values":[0.0126,0.00039],"labelExpr":"datum.value < 0.001 ? '0' : '0.0126'","labelColor":"#d8d8d8","labelFontSize":7,"labelPadding":4,"tickSize":0,"grid":false,"domain":false,"labelOverlap":false,"labelFlush":false}},
    "y2":{"datum":0},
    "color":{"field":"wc","type":"nominal","legend":null,"scale":{"domain":["g","r"],"range":["#00ff00","#ff0000"]}}}},
  {"data":{"name":"bars"},"mark":{"type":"line","color":"#ffc000","strokeWidth":1.8},"encoding":{"y":{"field":"ep","type":"quantitative","axis":null}}},
  {"data":{"name":"zeroLine"},"mark":{"type":"rule","color":"#008b8b","strokeWidth":1.5,"strokeDash":[2,3]},"encoding":{"x":null,"y":{"field":"v","type":"quantitative","axis":null}}},
  {"data":{"name":"cursors"},"mark":{"type":"rule","color":"#4f6072","strokeWidth":1.2,"strokeDash":[8,6]},"encoding":{}},
  {"data":{"name":"waTitle"},"mark":{"type":"text","align":"left","baseline":"middle","fontSize":7,"color":"#d0d0d0"},"encoding":{"y":{"field":"v","type":"quantitative","axis":null},"text":{"field":"label"}}}
 ]},
{"width":1364,"height":104,
 "resolve":{"axis":{"x":"independent","y":"independent"}},
 "encoding":{"x":{"field":"t","type":"temporal","scale":{"type":"utc","domain":[1405445323000,1405655172000]},"axis":null}},
 "layer":[
  {"data":{"name":"bars"},"mark":{"type":"bar","width":5.5},"encoding":{
    "x":{"field":"t","type":"temporal","scale":{"type":"utc","domain":[1405445323000,1405655172000]},"axis":{"title":null,"values":[1405445400000,1405452600000,1405459800000,1405467000000,1405474200000,1405481400000,1405488600000,1405495800000,1405503000000,1405510200000,1405517400000,1405524600000,1405531800000,1405539000000,1405546200000,1405553400000,1405560600000,1405567800000,1405575000000,1405582200000,1405589400000,1405596600000,1405603800000,1405611000000,1405618200000,1405625400000,1405632600000,1405639800000,1405647000000,1405654200000],"labelExpr":"datum.index === 0 ? '15 Jul 2014' : utcFormat(datum.value, '%d %b %H:%M')","labelAlign":"left","labelColor":"#d8d8d8","labelFontSize":7,"labelPadding":0,"labelOffset":-7,"tickSize":3,"tickColor":"#909090","grid":false,"domain":false,"labelOverlap":false,"labelFlush":false}},
    "y":{"datum":1,"type":"quantitative","scale":{"domain":[0,1],"zero":false,"nice":false},"axis":{"orient":"right","title":null,"values":[0.947],"labelExpr":"'1'","labelColor":"#d8d8d8","labelFontSize":7,"labelPadding":4,"tickSize":0,"grid":false,"domain":false}},
    "y2":{"datum":0},
    "color":{"field":"t3","type":"nominal","legend":null,"scale":{"domain":["g","r"],"range":["#00ff00","#ff0000"]}}}},
  {"data":{"name":"cursors"},"mark":{"type":"rule","color":"#7a6a78","strokeWidth":1.2,"strokeDash":[8,6]},"encoding":{"x":{"field":"t","type":"temporal","axis":null}}},
  {"data":{"name":"t3Title"},"mark":{"type":"text","align":"left","baseline":"middle","fontSize":7,"color":"#d0d0d0"},"encoding":{"x":{"field":"t","type":"temporal","axis":null},"y":{"field":"v","type":"quantitative","axis":null},"text":{"field":"label"}}},
  {"data":{"name":"dateBoxes"},"mark":{"type":"rect","color":"#5f7f95"},"encoding":{"x":{"field":"t","type":"temporal","axis":null},"x2":{"field":"t2"},"y":{"field":"v","type":"quantitative","axis":null},"y2":{"field":"v2"}}},
  {"data":{"name":"dateBoxes"},"mark":{"type":"text","align":"left","baseline":"middle","fontSize":7,"color":"#e8e8e8"},"encoding":{"x":{"field":"tl","type":"temporal","axis":null},"y":{"field":"vl","type":"quantitative","axis":null},"text":{"field":"label"}}},
  {"data":{"name":"stamp"},"mark":{"type":"text","align":"center","baseline":"middle","font":"Noto Sans CJK SC","fontWeight":900,"fontSize":36,"color":"#aaaaaa"},"encoding":{"x":{"field":"t","type":"temporal","axis":null},"y":{"field":"v","type":"quantitative","axis":null},"text":{"field":"label"}}}
 ]}
]
}
